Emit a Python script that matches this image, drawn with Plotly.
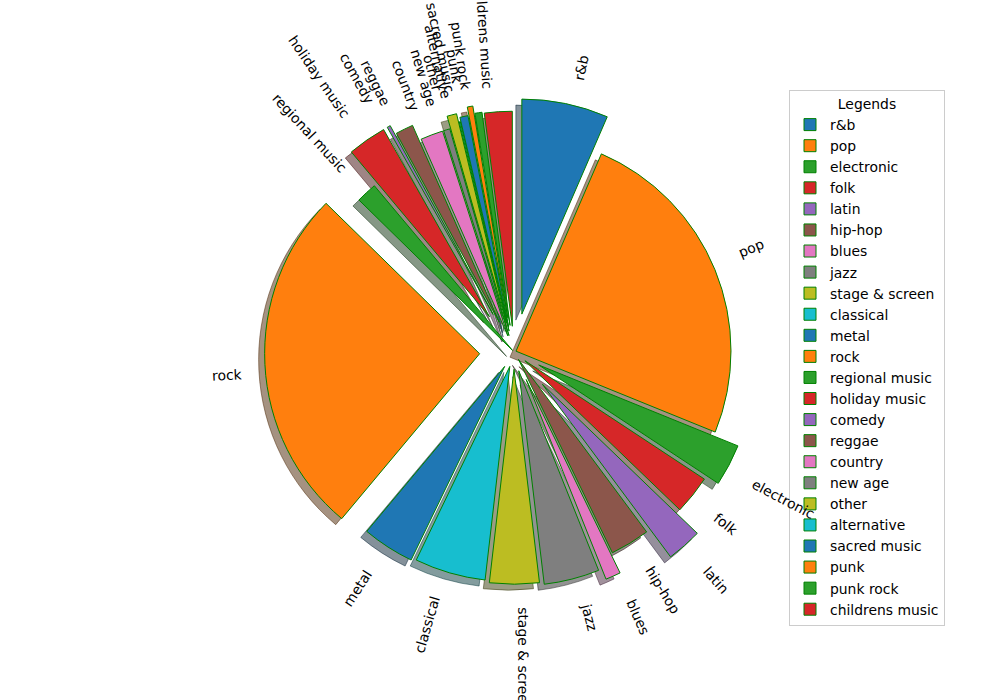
import numpy as np
import plotly.graph_objects as go

# ---- data ----
genres = ["r&b", "pop", "electronic", "folk", "latin", "hip-hop", "blues", "jazz",
          "stage & screen", "classical", "metal", "rock", "regional music",
          "holiday music", "comedy", "reggae", "country", "new age", "other",
          "alternative", "sacred music", "punk", "punk rock", "childrens music"]
counts = [234, 887, 113, 105, 95, 107, 41, 150, 134, 192, 141, 945, 56, 105,
          9, 48, 61, 17, 26, 3, 22, 15, 19, 75]
explode = [0.18, 0.01, 0.13, 0.065, 0.2, 0.04, 0.14, 0.09, 0.08, 0.07, 0.08, 0.16,
           0.01, 0.2, 0.2, 0.155, 0.08, 0.08, 0.14, 0.1, 0.12, 0.16, 0.125, 0.12]
tab10 = ["#1f77b4", "#ff7f0e", "#2ca02c", "#d62728", "#9467bd",
         "#8c564b", "#e377c2", "#7f7f7f", "#bcbd22", "#17becf"]

# ---- layout geometry ----
W, H = 1000, 700
CX, CY = 514, 352     # pie centre (px)
R = 215               # pie radius (px)
SX, SY = -6, 6        # shadow offset (px)
FONT = "DejaVu Sans"
FS = 13.9

colors = [tab10[i % 10] for i in range(len(genres))]


def shadow_rgba(hexc):
    r, g, b = (int(hexc[i:i + 2], 16) for i in (1, 3, 5))
    return f"rgba({0.3 * r:.0f},{0.3 * g:.0f},{0.3 * b:.0f},0.5)"


shadow_colors = [shadow_rgba(c) for c in colors]

half = R * (1 + max(explode))


def dom(cx, cy):
    return dict(x=[(cx - half) / W, (cx + half) / W],
                y=[1 - (cy + half) / H, 1 - (cy - half) / H])


fig = go.Figure()
fig.add_trace(go.Pie(
    labels=genres, values=counts, pull=explode, sort=False,
    direction="clockwise", rotation=0, textinfo="none", hoverinfo="skip",
    showlegend=False, domain=dom(CX + SX, CY + SY),
    marker=dict(colors=shadow_colors, line=dict(color=shadow_colors, width=1)),
))
fig.add_trace(go.Pie(
    labels=genres, values=counts, pull=explode, sort=False,
    direction="clockwise", rotation=0, textinfo="none",
    domain=dom(CX, CY),
    marker=dict(colors=colors, line=dict(color="green", width=1)),
))

# rotated outside labels (matplotlib rotatelabels style)
vals = np.asarray(counts, dtype=float)
frac = vals / vals.sum()
mid = np.cumsum(frac) - frac / 2
theta = np.deg2rad(90 - 360 * mid)
annotations = []
for name, th, e in zip(genres, theta, explode):
    d = (e + 1.1) * R
    xt, yt = d * np.cos(th), d * np.sin(th)
    rot = np.degrees(th) + (0 if xt > 0 else 180)
    ang = (-rot + 180) % 360 - 180
    annotations.append(dict(
        x=(CX + xt) / W, y=1 - (CY - yt) / H, xref="paper", yref="paper",
        text=name, showarrow=False, textangle=ang, borderpad=0,
        xanchor="left" if xt > 0 else "right",
        yanchor="bottom" if yt > 0 else "top",
        font=dict(family=FONT, size=FS, color="black"),
    ))

fig.update_layout(
    width=W, height=H, margin=dict(l=0, r=0, t=0, b=0),
    paper_bgcolor="white", plot_bgcolor="white",
    annotations=annotations,
    font=dict(family=FONT, size=FS, color="black"),
    legend=dict(
        x=789 / W, y=1 - 90 / H, xanchor="left", yanchor="top",
        bgcolor="rgba(255,255,255,0.8)", bordercolor="#cccccc", borderwidth=1,
        title=dict(text="Legends", side="top center", font=dict(family=FONT, size=FS)),
        font=dict(family=FONT, size=FS), traceorder="normal",
    ),
)

fig.write_html("out.html")
